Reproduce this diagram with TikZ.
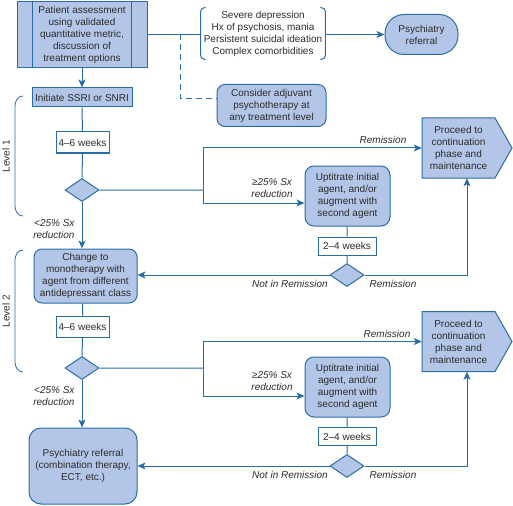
\documentclass[tikz,border=0pt]{standalone}
\usepackage{fontspec}
\setmainfont{Liberation Sans}
\usepackage{tikz}
\usetikzlibrary{calc,arrows.meta,positioning,shapes.geometric}
\definecolor{linec}{HTML}{2A6DA6}
\definecolor{boxf}{HTML}{B4C6E7}
\definecolor{txtc}{HTML}{2B2B2B}
\tikzset{
  ln/.style={line width=1pt,linec},
  ar/.style={-{Stealth[length=8pt,width=7pt,inset=2pt]},line width=1pt,linec},
  box/.style={draw=linec,line width=1pt,fill=boxf,align=center,text=txtc,inner sep=1pt,font=\fontsize{10}{12}\selectfont},
  rbox/.style={box,rounded corners=8pt},
  wbox/.style={draw=linec,line width=1pt,fill=white,text=txtc,inner sep=1pt,font=\fontsize{10}{12}\selectfont},
  dec/.style={diamond,draw=linec,line width=1pt,fill=boxf,minimum width=34pt,minimum height=23pt,inner sep=0pt},
  lbl/.style={font=\fontsize{10}{12}\selectfont\itshape,text=txtc,align=center}
}
\newcommand{\proceedbox}[3]{\filldraw[draw=linec,line width=1pt,fill=boxf] (#2-36.5,#3-30) -- (#2+36.5,#3-30) -- (#2+53.5,#3) -- (#2+36.5,#3+30) -- (#2-36.5,#3+30) -- cycle;
  \node[align=center,text=txtc,font=\fontsize{10}{12}\selectfont,minimum width=73pt,minimum height=60pt,inner sep=0pt] (#1) at (#2,#3) {Proceed to\\continuation\\phase and\\maintenance};}
\newcommand{\levelbrace}[3]{\draw[ln,line width=0.8pt] (23,#1) to[out=180,in=90] (15,#1+10) -- (15,#2-10) to[out=-90,in=180] (23,#2);
  \node[font=\fontsize{10}{12}\selectfont,text=txtc,rotate=90] at (6,#1/2+#2/2) {#3};}

\begin{document}
\begin{tikzpicture}[x=1pt,y=-1pt]
\useasboundingbox (0,0) rectangle (513,505);
% start
\node[box,minimum width=130pt,minimum height=66pt] (assess) at (82,35) {Patient assessment\\using validated\\quantitative metric,\\discussion of\\treatment options};
\draw[ln] ([xshift=16pt]assess.north west) -- ([xshift=16pt]assess.south west);
\draw[ln] ([xshift=-16pt]assess.north east) -- ([xshift=-16pt]assess.south east);
\node[align=center,text=txtc,font=\fontsize{10}{12}\selectfont,inner sep=3pt] (risks) at (263,33.5) {Severe depression\\Hx of psychosis, mania\\Persistent suicidal ideation\\Complex comorbidities};
\draw[ln,rounded corners=4pt] ([xshift=5pt]risks.north west) -- (risks.north west) -- (risks.south west) -- ([xshift=5pt]risks.south west);
\draw[ln,rounded corners=4pt] ([xshift=-5pt]risks.north east) -- (risks.north east) -- (risks.south east) -- ([xshift=-5pt]risks.south east);
\node[box,rounded corners=19pt,minimum width=73pt,minimum height=40pt] (psy1) at (421.5,34.5) {Psychiatry\\referral};
\node[rbox,minimum width=109pt,minimum height=42pt] (adj) at (271.5,105.5) {Consider adjuvant\\psychotherapy at\\any treatment level};
\coordinate (dj) at (180,34.5);
\draw[ln] (assess.east) -- (assess.east -| risks.west);
\draw[ar] (risks.east |- psy1) -- (psy1.west);
\draw[ln,dash pattern=on 6pt off 4pt] (dj) |- ([yshift=7pt]adj.west);
% level 1
\levelbrace{96}{216}{Level 1}
\node[box,minimum width=100pt,minimum height=19pt] (ssri) at (82,97.5) {Initiate SSRI or SNRI};
\node[wbox,minimum width=53pt,minimum height=21pt] (wk1) at (82.5,142.5) {4--6 weeks};
\node[dec] (d1) at (82,190) {};
\coordinate (j1) at (203,190);
\node[rbox,rounded corners=9pt,minimum width=85pt,minimum height=60pt] (upt1) at (347.5,196) {Uptitrate initial\\agent, and/or\\augment with\\second agent};
\node[wbox,minimum width=58pt,minimum height=18pt] (wk3) at (347,246) {2--4 weeks};
\node[dec] (d2) at (347,275) {};
\proceedbox{proc1}{458.5}{148}
\node[rbox,minimum width=103pt,minimum height=54pt] (change) at (85.5,276) {Change to\\monotherapy with\\agent from different\\antidepressant class};
\draw[ar] (assess) -- (ssri);
\draw[ln] (ssri) -- (wk1) -- (d1) -- (j1);
\draw[ar] (j1) |- (proc1.west);
\draw[ar] (j1) |- ([yshift=-7pt]upt1.west);
\draw[ln] (upt1) -- (wk3) -- (d2);
\draw[ar] (d2) -- (d2 -| change.east);
\draw[ar] (d2) -| ([xshift=8.5pt]proc1.south);
\draw[ar] (d1) -- (d1 |- change.north);
\node[lbl] (rem1) at (383,139.5) {Remission};
\node[lbl] (gt1) at (272,188) {≥25\% Sx\\reduction};
\node[lbl,align=right,anchor=east] (lt1) at (78,229) {<25\% Sx\\reduction};
\node[lbl] (nr1) at (290,283.5) {Not in Remission};
\node[lbl] (rm1) at (393,283.5) {Remission};
% level 2
\levelbrace{250}{372}{Level 2}
\node[wbox,minimum width=53pt,minimum height=21pt] (wk2) at (82.5,326.5) {4--6 weeks};
\node[dec] (d3) at (82,368) {};
\coordinate (j2) at (203,368);
\node[rbox,rounded corners=9pt,minimum width=85pt,minimum height=60pt] (upt2) at (347.5,387) {Uptitrate initial\\agent, and/or\\augment with\\second agent};
\node[wbox,minimum width=58pt,minimum height=18pt] (wk4) at (347,436.5) {2--4 weeks};
\node[dec] (d4) at (347,466) {};
\proceedbox{proc2}{458.5}{341.5}
\node[box,rounded corners=12pt,minimum width=108pt,minimum height=76pt] (psy2) at (83,466) {Psychiatry referral\\(combination therapy,\\ECT, etc.)};
\draw[ln] (change.south -| wk2) -- (wk2) -- (d3) -- (j2);
\draw[ar] (j2) |- (proc2.west);
\draw[ar] (j2) |- ([yshift=-9pt]upt2.west);
\draw[ln] (upt2) -- (wk4) -- (d4);
\draw[ar] (d4) -- (d4 -| psy2.east);
\draw[ar] (d4) -| ([xshift=8.5pt]proc2.south);
\draw[ar] (d3) -- (d3 |- psy2.north);
\node[lbl] (rem2) at (387,333.5) {Remission};
\node[lbl] (gt2) at (272,381) {≥25\% Sx\\reduction};
\node[lbl,align=right,anchor=east] (lt2) at (78,396) {<25\% Sx\\reduction};
\node[lbl] (nr2) at (290,475) {Not in Remission};
\node[lbl] (rm2) at (393,475) {Remission};
\end{tikzpicture}
\end{document}
